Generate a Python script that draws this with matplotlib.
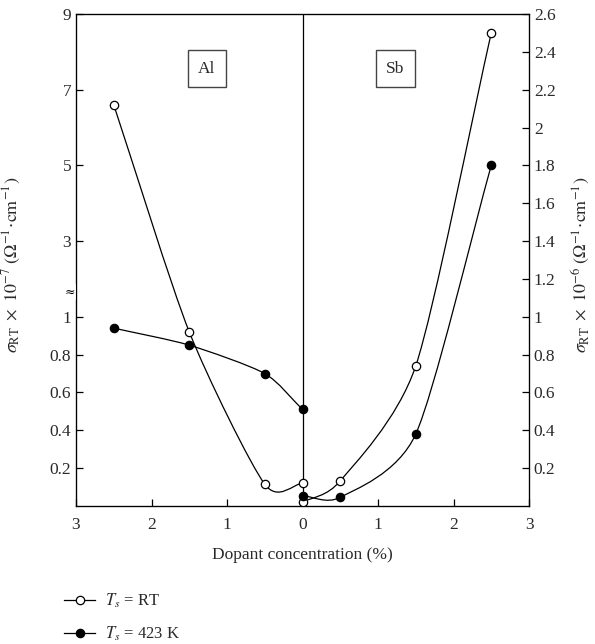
import numpy as np
import matplotlib
matplotlib.use('Agg')
import matplotlib.pyplot as plt
from matplotlib.path import Path
from matplotlib.patches import PathPatch
from matplotlib.lines import Line2D

plt.rcParams['font.family'] = ['Liberation Serif', 'DejaVu Serif']
plt.rcParams['mathtext.fontset'] = 'stix'
plt.rcParams['font.size'] = 12.5

# Dane: strona Al (lewa os, x ujemne), strona Sb (prawa os)
al_x = [-2.5, -1.5, -0.5, 0.0]
al_rt = [6.6, 0.92, 0.115, 0.12]
al_423 = [0.94, 0.85, 0.70, 0.51]
sb_x = [0.0, 0.5, 1.5, 2.5]
sb_rt = [0.02, 0.133, 0.74, 2.5]
sb_423 = [0.055, 0.046, 0.38, 1.8]

left_ticks = [0.2, 0.4, 0.6, 0.8, 1, 3, 5, 7, 9]
right_ticks = [0.2, 0.4, 0.6, 0.8, 1, 1.2, 1.4, 1.6, 1.8, 2, 2.2, 2.4, 2.6]
x_ticks = [-3, -2, -1, 0, 1, 2, 3]
x_labels = ['3', '2', '1', '0', '1', '2', '3']

TXT = '#2a2a2a'


def left_to_plot(v):
    # lewa os: 0-1 liniowo jak prawa, powyzej 1 skompresowana (1..9 -> 1..2.6)
    v = np.asarray(v, dtype=float)
    return np.where(v <= 1, v, 1 + (v - 1) * 0.2)


def smooth_path(xs, ys, tension=0.72):
    # krzywa Catmull-Rom (z napieciem) jako segmenty Beziera
    P = np.column_stack([xs, ys])
    n = len(P)
    T = np.zeros_like(P)
    for i in range(n):
        if i == 0:
            T[i] = P[1] - P[0]
        elif i == n - 1:
            T[i] = P[-1] - P[-2]
        else:
            T[i] = (P[i + 1] - P[i - 1]) / 2
    T = T * tension
    verts = [P[0]]
    codes = [Path.MOVETO]
    for i in range(n - 1):
        verts += [P[i] + T[i] / 3, P[i + 1] - T[i + 1] / 3, P[i + 1]]
        codes += [Path.CURVE4] * 3
    return Path(verts, codes)


fig = plt.figure(figsize=(5.95, 6.44), dpi=100)
ax = fig.add_axes([76 / 595, 138 / 644, 453 / 595, 492 / 644])

series = [
    (al_x, left_to_plot(al_rt), 'white'),
    (al_x, left_to_plot(al_423), 'black'),
    (sb_x, np.array(sb_rt), 'white'),
    (sb_x, np.array(sb_423), 'black'),
]
for xs, ys, fc in series:
    ax.add_patch(PathPatch(smooth_path(xs, ys), fc='none', ec='black', lw=0.9, zorder=2))
for xs, ys, fc in series:
    ax.plot(xs, ys, ls='none', marker='o', ms=6, mfc=fc, mec='black', mew=0.9, zorder=4)

ax.axvline(0, color='black', lw=0.9, zorder=3)

ax.set_xlim(-3, 3)
ax.set_ylim(0, 2.6)
ax.set_xticks(x_ticks)
ax.set_xticklabels(x_labels)
ax.set_yticks(left_to_plot(left_ticks))
ax.set_yticklabels(['%g' % v for v in left_ticks])
ax.tick_params(direction='in', length=5, width=0.9, colors='black', labelcolor=TXT, labelsize=12.5)
ax.tick_params(axis='x', pad=8)
for s in ax.spines.values():
    s.set_linewidth(0.9)

ax2 = ax.twinx()
ax2.set_ylim(0, 2.6)
ax2.set_yticks(right_ticks)
ax2.set_yticklabels(['%g' % v for v in right_ticks])
ax2.tick_params(direction='in', length=5, width=0.9, labelcolor=TXT, labelsize=12.5)

ax.set_xlabel('Dopant concentration (%)', color=TXT, labelpad=10)
ax.set_ylabel(r'$\sigma_{\rm RT}\ \times\ 10^{-7}\ (\Omega^{-1}\!\cdot\!{\rm cm}^{-1})$', color=TXT, fontsize=13)
ax.yaxis.set_label_coords(-0.118, 0.49)
ax2.set_ylabel(r'$\sigma_{\rm RT}\ \times\ 10^{-6}\ (\Omega^{-1}\!\cdot\!{\rm cm}^{-1})$', color=TXT, fontsize=13,
               rotation=90)
ax2.yaxis.set_label_coords(1.09, 0.49)

# znak przerwy osi
ax.text(-0.013, left_to_plot(1.65), '≈', transform=ax.get_yaxis_transform(), ha='center', va='center',
        fontsize=9, color='black', family='DejaVu Serif',
        bbox=dict(boxstyle='square,pad=0.1', fc='white', ec='none'), clip_on=False, zorder=5)

box = dict(boxstyle='square,pad=0.6', fc='white', ec='#444444', lw=1)
ax.text(-1.27, 2.31, 'Al', ha='center', va='center', color=TXT, bbox=box)
ax.text(1.23, 2.31, 'Sb', ha='center', va='center', color=TXT, bbox=box)

handles = [
    Line2D([], [], color='black', lw=0.9, marker='o', ms=6, mfc='white', mec='black', mew=0.9),
    Line2D([], [], color='black', lw=0.9, marker='o', ms=6, mfc='black', mec='black', mew=0.9),
]
fig.legend(handles, [r'$T_s$ = RT', r'$T_s$ = 423 K'], loc='upper left',
           bbox_to_anchor=(0.083, 0.105), frameon=False, numpoints=1, fontsize=12,
           handlelength=1.85, handletextpad=0.6, labelspacing=0.9, labelcolor=TXT)

plt.savefig('out.png', dpi=100)
